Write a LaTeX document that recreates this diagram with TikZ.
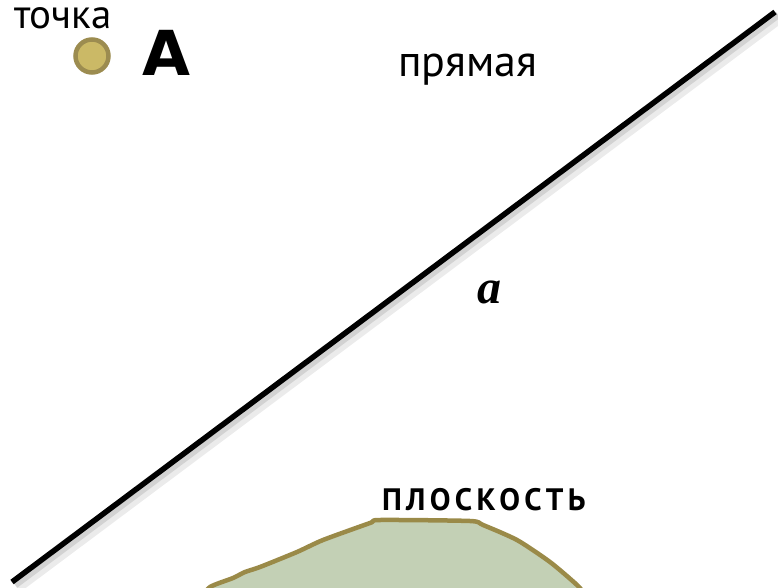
\documentclass[tikz,border=0pt]{standalone}
\usepackage{fontspec}
\setmainfont{PT Sans}
\newfontfamily\boldA{DejaVu Sans}
\newfontfamily\timesf{Liberation Serif}
\newfontfamily\spaced{PT Sans}[LetterSpace=14]
\definecolor{dotfill}{HTML}{CBB966}
\definecolor{dotedge}{HTML}{9C8C50}
\definecolor{planefill}{HTML}{C3D0B5}
\definecolor{planeedge}{HTML}{9A8A48}
\tikzset{
  lbl/.style={anchor=base west, inner sep=0pt, outer sep=0pt},
  pointdot/.style={circle, fill=dotfill, draw=dotedge, line width=4.5pt, minimum size=33pt, inner sep=0pt},
}
\begin{document}
\begin{tikzpicture}[x=1pt,y=-1pt]
\useasboundingbox (0,0) rectangle (778,588);
\clip (0,0) rectangle (778,588);
% plane
\fill[planefill] plot[smooth, tension=0.4] coordinates {(200,600) (210,587) (233,578) (245,572) (260,567) (297,552) (323,540) (370,523) (380,520) (470,521) (483,525) (517,540) (550,562) (577,585) (590,600)} -- cycle;
\draw[planeedge, line width=4.5pt, line join=round] plot[smooth, tension=0.4] coordinates {(200,600) (210,587) (233,578) (245,572) (260,567) (297,552) (323,540) (370,523) (380,520) (470,521) (483,525) (517,540) (550,562) (577,585) (590,600)};
% line with shadow
\coordinate (l1) at (12,582);
\coordinate (l2) at (775,12);
\draw[black!40, opacity=0.2, line width=12pt] ([shift={(5,5)}]l1) -- ([shift={(5,5)}]l2);
\draw[black!40, opacity=0.3, line width=7pt] ([shift={(3,3)}]l1) -- ([shift={(3,3)}]l2);
\draw[black, line width=5.5pt] (l1) -- (l2);
% point
\node[pointdot] (dot) at (92,56) {};
\node[lbl, font=\fontsize{41}{43}\selectfont] (tochka) at (14,29) {точка};
\node[lbl, font=\boldA\bfseries\fontsize{62}{64}\selectfont] (A) at (142,76) {A};
\node[lbl, font=\fontsize{44}{46}\selectfont] (pryamaya) at (398,77) {прямая};
\node[lbl, font=\timesf\bfseries\itshape\fontsize{48}{50}\selectfont] (a) at (477,303) {a};
\node[lbl, font=\spaced\bfseries\fontsize{31}{33}\selectfont] (plos) at (382,510) {ПЛОСКОСТЬ};
\end{tikzpicture}
\end{document}
